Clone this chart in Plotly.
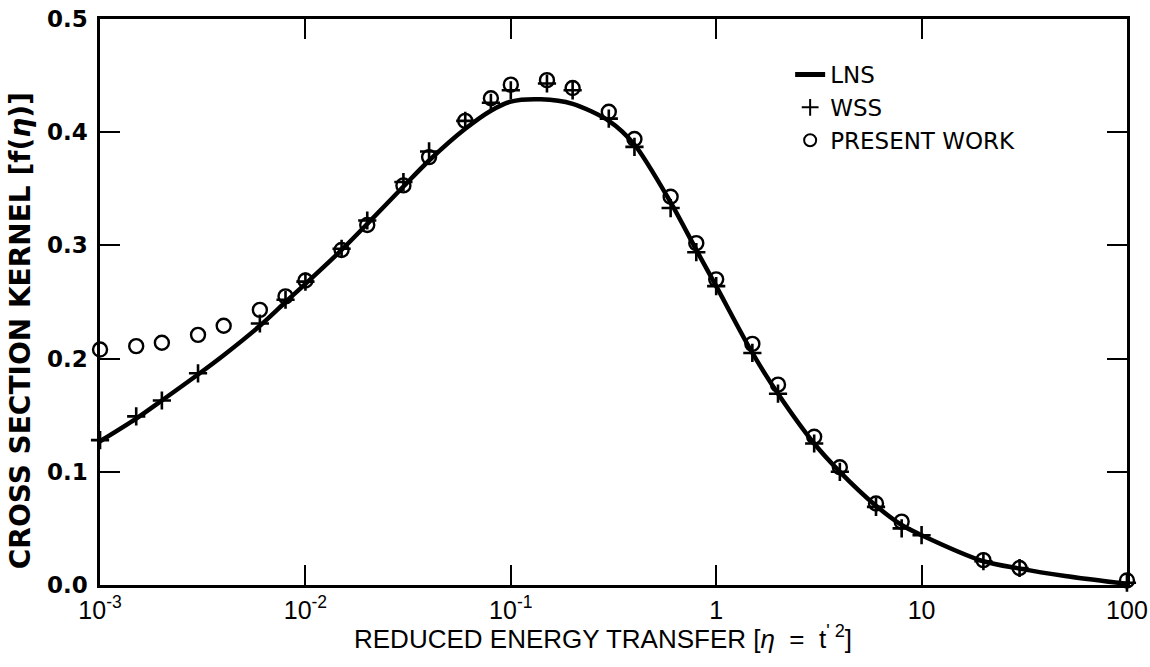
import plotly.graph_objects as go

# LNS curve (smooth reference kernel)
eta_lns = [0.001, 0.0015, 0.002, 0.003, 0.004, 0.006, 0.008, 0.01, 0.015, 0.02,
           0.03, 0.04, 0.06, 0.08, 0.1, 0.14, 0.2, 0.3, 0.4, 0.6, 0.8, 1, 1.5, 2,
           3, 4, 6, 8, 10, 20, 30, 50, 100]
f_lns = [0.127, 0.147, 0.163, 0.186, 0.203, 0.229, 0.250, 0.266, 0.296, 0.319,
         0.352, 0.375, 0.403, 0.419, 0.427, 0.429, 0.425, 0.410, 0.389, 0.338,
         0.296, 0.264, 0.205, 0.169, 0.125, 0.100, 0.070, 0.053, 0.044, 0.021,
         0.0145, 0.008, 0.001]

# WSS points
eta_wss = [0.001, 0.0015, 0.002, 0.003, 0.006, 0.008, 0.01, 0.015, 0.02, 0.03,
           0.04, 0.06, 0.08, 0.1, 0.15, 0.2, 0.3, 0.4, 0.6, 0.8, 1, 1.5, 2, 3,
           4, 6, 8, 10, 20, 30, 100]
f_wss = [0.128, 0.149, 0.163, 0.187, 0.231, 0.252, 0.268, 0.297, 0.322, 0.356,
         0.383, 0.410, 0.426, 0.437, 0.443, 0.437, 0.412, 0.387, 0.333, 0.294,
         0.264, 0.205, 0.169, 0.125, 0.100, 0.069, 0.050, 0.044, 0.021, 0.015,
         0.002]

# Present work points
eta_pw = [0.001, 0.0015, 0.002, 0.003, 0.004, 0.006, 0.008, 0.01, 0.015, 0.02,
          0.03, 0.04, 0.06, 0.08, 0.1, 0.15, 0.2, 0.3, 0.4, 0.6, 0.8, 1, 1.5,
          2, 3, 4, 6, 8, 20, 30, 100]
f_pw = [0.208, 0.211, 0.214, 0.221, 0.229, 0.243, 0.255, 0.269, 0.296, 0.318,
        0.353, 0.378, 0.410, 0.430, 0.442, 0.446, 0.439, 0.418, 0.394, 0.343,
        0.302, 0.270, 0.213, 0.177, 0.131, 0.104, 0.072, 0.056, 0.022, 0.015,
        0.004]

x_tickvals = [1e-3, 1e-2, 1e-1, 1, 10, 100]
x_ticktext = ["10<sup>-3</sup>", "10<sup>-2</sup>", "10<sup>-1</sup>", "1", "10", "100"]
y_tickvals = [0.0, 0.1, 0.2, 0.3, 0.4, 0.5]

fig = go.Figure()
fig.add_trace(go.Scatter(
    x=eta_lns, y=f_lns, mode="lines", name="LNS",
    line=dict(color="black", width=4.5, shape="spline", smoothing=0.8),
    cliponaxis=False,
))
fig.add_trace(go.Scatter(
    x=eta_wss, y=f_wss, mode="markers", name="WSS",
    marker=dict(symbol="cross-thin", size=13, color="black",
                line=dict(color="black", width=2.6)),
    cliponaxis=False,
))
fig.add_trace(go.Scatter(
    x=eta_pw, y=f_pw, mode="markers", name="PRESENT WORK",
    marker=dict(symbol="circle-open", size=14, color="black",
                line=dict(color="black", width=2.4)),
    cliponaxis=False,
))

fig.update_layout(
    width=1150, height=667, autosize=False,
    margin=dict(l=100, r=23, t=19, b=82),
    paper_bgcolor="white", plot_bgcolor="white",
    showlegend=True,
    legend=dict(
        x=0.672, y=0.94, xanchor="left", yanchor="top",
        bgcolor="rgba(0,0,0,0)", borderwidth=0,
        font=dict(family="DejaVu Sans", size=23, color="black"),
        tracegroupgap=0, itemsizing="constant",
    ),
    xaxis=dict(
        type="log", range=[-3.0002, 2.0002], automargin=False,
        tickvals=x_tickvals, ticktext=x_ticktext,
        ticks="inside", ticklen=20, tickwidth=2, tickcolor="black",
        showline=True, linecolor="black", linewidth=2.5, mirror="ticks",
        showgrid=False, zeroline=False,
        tickfont=dict(family="Liberation Sans, Arial", size=25, color="black"),
        ticklabelstandoff=1, ticklabeloverflow="allow",
    ),
    yaxis=dict(
        range=[0, 0.5], automargin=False,
        tickvals=y_tickvals, tickformat=".1f",
        ticks="inside", ticklen=20, tickwidth=2, tickcolor="black",
        showline=True, linecolor="black", linewidth=2.5, mirror="ticks",
        showgrid=False, zeroline=False,
        tickfont=dict(family="DejaVu Sans", size=23, color="black", weight="bold"),
        ticklabelstandoff=5,
    ),
    annotations=[
        dict(
            text="REDUCED ENERGY TRANSFER [<i>η</i>  =  t<sup>' 2</sup>]",
            xref="paper", yref="paper", x=0.49, y=-0.093,
            xanchor="center", yanchor="middle", showarrow=False,
            font=dict(family="Liberation Sans, Arial", size=26, color="black"),
        ),
        dict(
            text="CROSS SECTION KERNEL [f(<i>η</i>)]",
            xref="paper", yref="paper", x=-0.078, y=0.45,
            xanchor="center", yanchor="middle", showarrow=False,
            textangle=-90,
            font=dict(family="DejaVu Sans", size=28, color="black", weight="bold"),
        ),
    ],
)

fig.write_html("out.html")
